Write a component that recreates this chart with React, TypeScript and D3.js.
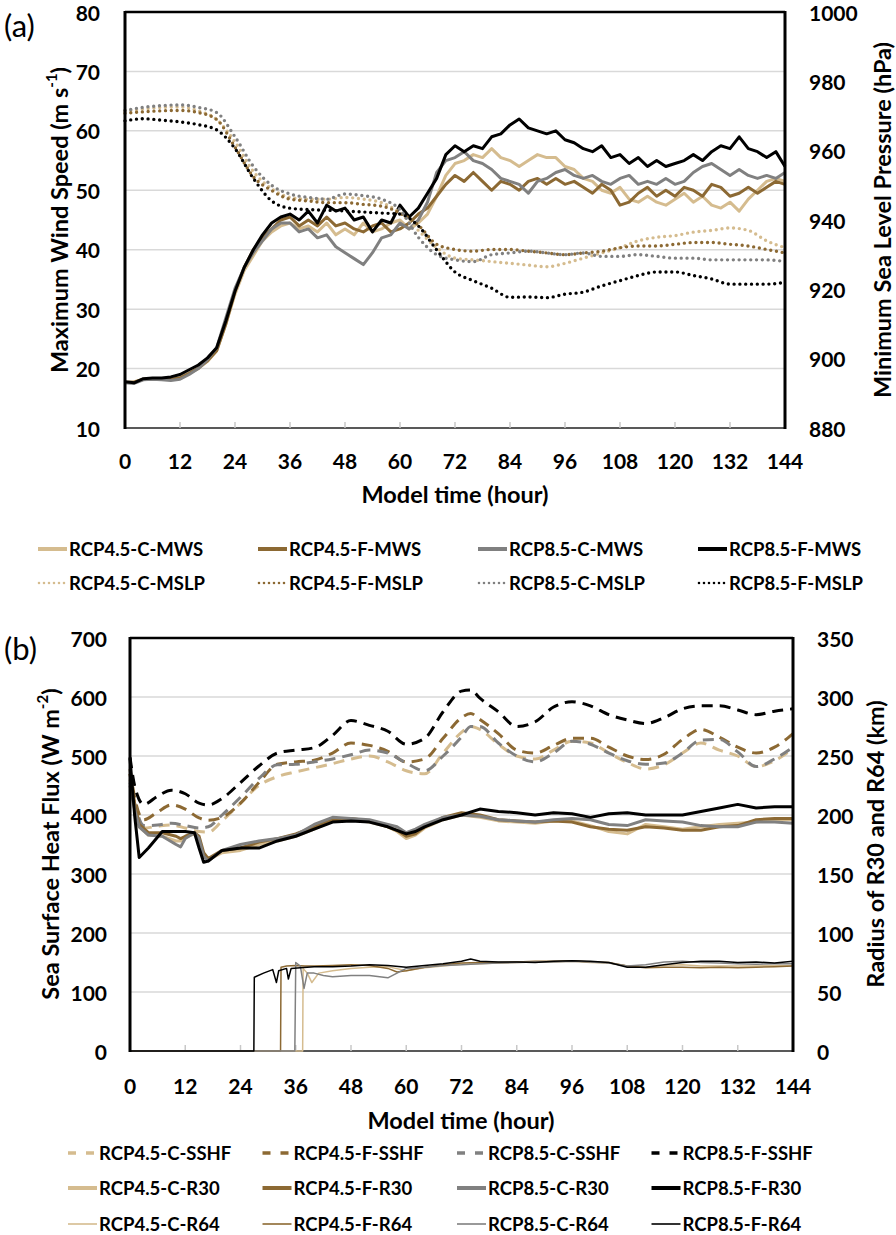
import React from 'react';
import * as d3 from 'd3';

// ---------- Panel (a) data ----------
const HOURS_TICKS = [0, 12, 24, 36, 48, 60, 72, 84, 96, 108, 120, 132, 144];
const WIND_TICKS = [10, 20, 30, 40, 50, 60, 70, 80];
const PRES_TICKS = [880, 900, 920, 940, 960, 980, 1000];

const HOURS_MWS = [0,2,4,6,8,10,12,14,16,18,20,22,24,26,28,30,32,34,36,38,40,42,44,46,48,50,52,54,56,58,60,62,64,66,68,70,72,74,76,78,80,82,84,86,88,90,92,94,96,98,100,102,104,106,108,110,112,114,116,118,120,122,124,126,128,130,132,134,136,138,140,142,144];

const MWS_C45 = [17.6,17.8,18.2,18.3,18.3,18.3,18.5,19.2,20,21.2,23,27.5,32.5,36.5,39,41.5,43,44,
  44.5,43.5,44,43,44.5,42.5,43.5,42.5,44.5,43,43.5,44.5,45,43.5,44.5,46,49,52.5,
  54.5,55,56,55.5,57,55.5,55,54,55,56,55.5,55.5,54,53.5,52,51.5,50,49.5,
  50.5,48.5,48,49,48,47.5,48.5,49.5,48,49,47.5,47,48,46.5,48.5,50,51.5,52,
  51.5];
const MWS_F45 = [17.7,17.7,18.2,18.3,18.2,18.2,18.4,19.2,20.1,21.3,23,27.5,33,37,40,42,43.5,45,
  45.5,44,45,44,45.5,44,44.5,43.5,43,44,44.5,43,43.5,44.5,46,47,49,51,
  52.5,51.5,53,51.5,50,51.5,51,50,51.5,52,51,52,51,51.5,50.5,49.5,51,50,
  47.5,48,49.5,50.5,49,50,49,50.5,50,49,51,50.5,49,49.5,50.5,49.5,50.5,51.5,
  51];
const MWS_C85 = [17.6,17.5,18.1,18.2,18.1,18.0,18.2,19.0,20.0,21.5,23.5,28.5,33.5,37,39.5,41.5,43.5,44.5,
  44.5,43,43.5,42,42.5,40.5,39.5,38.5,37.5,39.5,42,42.5,44.5,43.5,45,48,53,55,
  55.5,56.5,55,54.5,53.5,52,51.5,51,49.5,51.5,52,53,53.5,52.5,52,52.5,51.5,51,
  52,52.5,51,51.5,51,52,51,51.5,53,54,54.5,53.5,52.5,53.5,52.5,52,52.5,52,
  53];
const MWS_F85 = [17.8,17.6,18.3,18.4,18.4,18.6,19.0,19.8,20.6,21.8,23.5,28,33,37,40,42.5,44.5,45.5,
  46,45,46.5,44.5,47.5,46.5,47,45,45.5,43,45,44.5,47.5,45.5,47,49.5,52,56,
  57.5,56.5,57.5,57,59,59.5,61,62,60.5,60,59.5,60,58.5,58,57,56.5,57.5,55.5,
  56,54.5,55.5,54,55,54,54.5,55,56,55,56.5,57.5,57,59,57,56.5,55.5,56.5,
  54];

const HOURS_MSLP = [0,4,8,12,16,20,24,28,32,36,40,44,48,52,56,60,64,68,72,76,80,84,88,92,96,100,104,108,112,116,120,124,128,132,136,140,144];
const MSLP_C45 = [971.5,972,972.5,972.6,971.5,969,962.5,954,949,946.5,946,946,946.5,946,945,942,937,932,929,928.5,928,927.5,927,926.5,927.5,929,930.5,932,934,935,935.5,936.5,937,937.7,937,934,932];
const MSLP_F45 = [970.8,971.2,971.5,971.6,971,969,961,952.5,948.5,946,945.5,945,945,944.5,944,942,938.5,933,931.5,931,931.5,931.5,931,930.5,930,930.5,931,932,932.5,932.5,933,933.5,933.5,933,932.5,931.5,930.5];
const MSLP_C85 = [971.6,972.5,973,973.2,972.5,971,964,955.5,950,947.5,946.5,946,947.5,947,946,943,935,930,928.5,928,930,930.5,931,930.5,930,930.5,929.5,929.5,930,929.5,929,929,928.5,928.5,928.5,928.5,928];
const MSLP_F85 = [968.6,969.2,968.8,968.3,967.5,966,960.6,952,945.5,943.4,943,942.8,942.6,942.3,942,941.7,938.3,931.4,925,922.5,920.3,917.7,917.8,917.6,918.6,919.2,921,922.5,924,925,925,924,923,921.5,921.5,921.5,922];

// ---------- Panel (b) data ----------
const FLUX_TICKS = [0, 100, 200, 300, 400, 500, 600, 700];
const RADIUS_TICKS = [0, 50, 100, 150, 200, 250, 300, 350];

const HOURS_SSHF = [0,1,3,6,9,12,15,17,20,24,28,32,36,40,44,48,52,56,60,64,68,72,74,76,80,84,88,92,96,100,104,108,112,116,120,124,128,132,136,140,144];
const SSHF_C45 = [470,420,378,381,383,378,372,371,390,420,450,465,473,480,487,495,500,490,475,470,505,540,550,545,520,500,495,510,525,522,505,489,478,485,505,522,510,500,482,492,513];
const SSHF_F45 = [478,430,392,405,417,410,395,391,396,420,455,486,490,493,505,522,518,508,490,495,530,565,572,562,538,510,505,518,530,530,515,500,494,503,528,545,532,515,505,515,538];
const SSHF_C85 = [455,420,382,383,386,382,378,380,400,430,462,485,486,490,495,502,510,505,488,475,500,532,550,550,522,500,490,505,525,520,505,492,486,488,505,527,528,507,482,495,515];
const SSHF_F85 = [498,450,418,432,442,436,420,417,428,455,483,505,510,514,535,560,552,542,520,530,575,610,612,598,575,550,558,583,592,585,570,561,555,565,580,585,585,578,570,576,580];

const HOURS_R30 = [0,1,2,4,7,10,11,12,14,15,16,17,20,24,28,32,36,40,44,48,52,56,58,60,62,64,68,72,76,80,84,88,92,96,100,104,108,112,116,120,124,128,132,136,140,144];
const R30_C45 = [230,208,190,183,182,178,178,181,184,180,166,162,168,170,175,178,182,188,195,196,194,190,186,180,183,189,196,200,198,195,194,193,195,195,191,186,184,192,190,188,190,192,193,194,196,196];
const R30_F45 = [235,210,192,185,185,182,180,182,185,182,168,163,170,172,177,180,184,190,196,197,195,190,187,182,184,190,198,202,200,196,195,194,195,194,190,188,187,190,189,187,187,190,191,196,197,197];
const R30_C85 = [225,205,190,183,182,175,173,180,185,180,165,161,170,175,178,180,183,192,198,197,196,192,190,185,188,192,198,200,199,196,195,194,196,197,196,192,191,196,195,194,191,190,190,194,194,193];
const R30_F85 = [248,200,164,172,186,186,186,186,185,172,160,161,170,172,172,178,182,188,194,195,194,190,187,184,186,190,196,200,205,203,202,200,202,201,198,201,202,200,200,200,203,206,209,206,207,207];

const HOURS_R64_C45 = [0,37.5,37.6,38.5,39.5,41,44,48,52,56,60,64,68,72,76,80,84,88,92,96,100,104,108,112,116,120,124,128,132,136,140,144];
const R64_C45 = [0,0,70,66,58,66,68,70,71,71.5,68,70.5,72,73.5,74,74.5,75,75.5,75.5,76,75,74.5,72,71,72.5,73,72,72,72,72,72.5,72.5];
const HOURS_R64_F45 = [0,32.7,32.8,34,36,38,40,44,48,52,56,58,60,64,68,72,76,80,84,88,92,96,100,104,108,112,116,120,124,128,132,136,140,144];
const R64_F45 = [0,0,71,72,72.5,72,72,72.5,73,72.5,70,67,68,71,73,74.5,75,75,75.5,76,76,76.5,75.5,75,72,70.5,71,71,70.5,71,70.5,71,71.5,72];
const HOURS_R64_C85 = [0,35.8,36,37,37.8,38.5,40,42,44,48,52,56,60,64,68,72,76,80,84,88,92,96,100,104,108,112,116,120,124,128,132,136,140,144];
const R64_C85 = [0,0,75,72,53,66,66,64,63,64,64,62,70,71,72.5,73,74,74.5,75,75.5,75.5,76,75.5,74.5,72,73,75.5,76,75,74.5,74,73.5,74,74];
const HOURS_R64_F85 = [0,26.9,27,29,31,31.8,32.3,34,34.4,35,37,40,44,48,52,56,60,64,68,72,74,76,80,84,88,92,96,100,104,108,112,116,120,124,128,132,136,140,144];
const R64_F85 = [0,0,62.5,66,69,58,68,70,61,70,70.5,71.5,71.5,72,73,72.5,71,72.5,74,76,78,76,75.5,75.5,75,76,76.5,76,75,71,71,73,75,76,76,75,75.5,74.5,76];

// ---------- styles ----------
const C45 = '#D5BC8F';
const F45 = '#8C6933';
const C85 = '#808080';
const F85 = '#000000';
const FONT = "Lato, 'Open Sans', sans-serif";

type Pt = [number, number];
const zip = (h: number[], v: number[]): Pt[] => h.map((t, i) => [t, v[i]]);

const W = 896;
const H = 1235;

export default function App() {
  const xA = d3.scaleLinear().domain([0, 144]).range([125, 785]);
  const yA = d3.scaleLinear().domain([10, 80]).range([428, 12]);
  const yA2 = d3.scaleLinear().domain([880, 1000]).range([428, 12]);
  const xB = d3.scaleLinear().domain([0, 144]).range([130, 793]);
  const yB = d3.scaleLinear().domain([0, 700]).range([1051, 638]);
  const yB2 = d3.scaleLinear().domain([0, 350]).range([1051, 638]);

  const mk = (x: any, y: any, curve: any) =>
    d3.line<Pt>().x(d => x(d[0])).y(d => y(d[1])).curve(curve);

  const lineA = mk(xA, yA, d3.curveLinear);
  const lineA2 = mk(xA, yA2, d3.curveMonotoneX);
  const lineB = mk(xB, yB, d3.curveMonotoneX);
  const lineB2 = mk(xB, yB2, d3.curveLinear);

  const mwsSeries = [
    { label: 'RCP4.5-C-MWS', color: C45, data: zip(HOURS_MWS, MWS_C45) },
    { label: 'RCP4.5-F-MWS', color: F45, data: zip(HOURS_MWS, MWS_F45) },
    { label: 'RCP8.5-C-MWS', color: C85, data: zip(HOURS_MWS, MWS_C85) },
    { label: 'RCP8.5-F-MWS', color: F85, data: zip(HOURS_MWS, MWS_F85) },
  ];
  const mslpSeries = [
    { label: 'RCP4.5-C-MSLP', color: C45, data: zip(HOURS_MSLP, MSLP_C45) },
    { label: 'RCP4.5-F-MSLP', color: F45, data: zip(HOURS_MSLP, MSLP_F45) },
    { label: 'RCP8.5-C-MSLP', color: C85, data: zip(HOURS_MSLP, MSLP_C85) },
    { label: 'RCP8.5-F-MSLP', color: F85, data: zip(HOURS_MSLP, MSLP_F85) },
  ];
  const sshfSeries = [
    { label: 'RCP4.5-C-SSHF', color: C45, data: zip(HOURS_SSHF, SSHF_C45) },
    { label: 'RCP4.5-F-SSHF', color: F45, data: zip(HOURS_SSHF, SSHF_F45) },
    { label: 'RCP8.5-C-SSHF', color: C85, data: zip(HOURS_SSHF, SSHF_C85) },
    { label: 'RCP8.5-F-SSHF', color: F85, data: zip(HOURS_SSHF, SSHF_F85) },
  ];
  const r30Series = [
    { label: 'RCP4.5-C-R30', color: C45, data: zip(HOURS_R30, R30_C45) },
    { label: 'RCP4.5-F-R30', color: F45, data: zip(HOURS_R30, R30_F45) },
    { label: 'RCP8.5-C-R30', color: C85, data: zip(HOURS_R30, R30_C85) },
    { label: 'RCP8.5-F-R30', color: F85, data: zip(HOURS_R30, R30_F85) },
  ];
  const r64Series = [
    { label: 'RCP4.5-C-R64', color: C45, data: zip(HOURS_R64_C45, R64_C45) },
    { label: 'RCP4.5-F-R64', color: F45, data: zip(HOURS_R64_F45, R64_F45) },
    { label: 'RCP8.5-C-R64', color: C85, data: zip(HOURS_R64_C85, R64_C85) },
    { label: 'RCP8.5-F-R64', color: F85, data: zip(HOURS_R64_F85, R64_F85) },
  ];

  const DOT = { strokeWidth: 3.4, strokeDasharray: '0 5.8', strokeLinecap: 'round' as const };
  const DASH = { strokeWidth: 3, strokeDasharray: '11 7', strokeLinecap: 'butt' as const };

  const frame = (x: any, y: any, gridVals: number[], left: number, right: number, top: number, bottom: number) => (
    <g>
      {gridVals.map(v => (
        <line key={'g' + v} x1={left} x2={right} y1={y(v)} y2={y(v)} stroke="#d9d9d9" strokeWidth={1.5} />
      ))}
      <line x1={left} x2={right} y1={bottom} y2={bottom} stroke="#595959" strokeWidth={2.2} />
      {HOURS_TICKS.map(t => (
        <line key={'t' + t} x1={x(t)} x2={x(t)} y1={bottom - 6} y2={bottom} stroke="#c8c8c8" strokeWidth={1.5} />
      ))}
    </g>
  );
  const border = (left: number, right: number, top: number, bottom: number) => (
    <g fill="none" stroke="#000">
      <line x1={left} x2={right} y1={top} y2={top} strokeWidth={2.5} />
      <line x1={left} x2={left} y1={top - 1} y2={bottom + 1} strokeWidth={3} />
      <line x1={right} x2={right} y1={top - 1} y2={bottom + 1} strokeWidth={3} />
    </g>
  );

  const tickStyle = { fontFamily: FONT, fontWeight: 700, fontSize: 21, fill: '#000' };
  const titleStyle = { fontFamily: FONT, fontWeight: 700, fontSize: 23.5, fill: '#000' };
  const legStyle = { fontFamily: FONT, fontWeight: 700, fontSize: 18.5, fill: '#000' };

  const legendA = [
    ...mwsSeries.map(s => ({ label: s.label, color: s.color, kind: 'solid' })),
    ...mslpSeries.map(s => ({ label: s.label, color: s.color, kind: 'dot' })),
  ];
  const legendB = [
    ...sshfSeries.map(s => ({ label: s.label, color: s.color, kind: 'dash' })),
    ...r30Series.map(s => ({ label: s.label, color: s.color, kind: 'solid' })),
    ...r64Series.map(s => ({ label: s.label, color: s.color, kind: 'thin' })),
  ];

  const legendItem = (it: any, i: number, x0: number, dx: number, rows: number[]) => {
    const col = i % 4;
    const row = Math.floor(i / 4);
    const lx = x0 + col * dx;
    const ly = rows[row];
    let sample: any;
    if (it.kind === 'solid') sample = <line x1={lx} x2={lx + 29} y1={ly} y2={ly} stroke={it.color} strokeWidth={4} />;
    else if (it.kind === 'thin') sample = <line x1={lx} x2={lx + 29} y1={ly} y2={ly} stroke={it.color} strokeWidth={1.6} />;
    else if (it.kind === 'dot') sample = <line x1={lx + 1} x2={lx + 29} y1={ly} y2={ly} stroke={it.color} strokeWidth={2.6} strokeDasharray="0 5" strokeLinecap="round" />;
    else sample = <line x1={lx} x2={lx + 31} y1={ly} y2={ly} stroke={it.color} strokeWidth={3.5} strokeDasharray="8 10 8" />;
    return (
      <g key={it.label}>
        {sample}
        <text x={lx + 31} y={ly} dominantBaseline="central" style={legStyle}>{it.label}</text>
      </g>
    );
  };

  return (
    <svg width={W} height={H} viewBox={`0 0 ${W} ${H}`} style={{ position: 'absolute', left: 0, top: 0, background: '#fff' }}>
      <rect width={W} height={H} fill="#fff" />

      {/* ================= Panel (a) ================= */}
      <text x={4} y={25} dominantBaseline="central" style={{ fontFamily: FONT, fontSize: 31, fill: '#000' }}>(a)</text>
      {frame(xA, yA, WIND_TICKS.slice(1, -1), 125, 785, 12, 428)}

      {mwsSeries.map(s => (
        <path key={s.label} d={lineA(s.data) || ''} fill="none" stroke={s.color} strokeWidth={3} strokeLinejoin="round" />
      ))}
      {mslpSeries.map(s => (
        <path key={s.label} d={lineA2(s.data) || ''} fill="none" stroke={s.color} {...DOT} />
      ))}
      {border(125, 785, 12, 428)}

      {WIND_TICKS.map(v => (
        <text key={'wl' + v} x={100} y={yA(v)} textAnchor="end" dominantBaseline="central" style={tickStyle}>{v}</text>
      ))}
      {PRES_TICKS.map(v => (
        <text key={'pr' + v} x={809} y={yA2(v)} textAnchor="start" dominantBaseline="central" style={tickStyle}>{v}</text>
      ))}
      {HOURS_TICKS.map(t => (
        <text key={'xa' + t} x={xA(t)} y={460} textAnchor="middle" dominantBaseline="central" style={tickStyle}>{t}</text>
      ))}
      <text x={455} y={494} textAnchor="middle" dominantBaseline="central" style={titleStyle}>Model time (hour)</text>
      <text transform="translate(59,220) rotate(-90)" textAnchor="middle" dominantBaseline="central" style={titleStyle}>
        Maximum Wind Speed (m s<tspan dy={-8} fontSize={15}>-1</tspan><tspan dy={8}>)</tspan>
      </text>
      <text transform="translate(882,220) rotate(-90)" textAnchor="middle" dominantBaseline="central" style={titleStyle}>
        Minimum Sea Level Pressure (hPa)
      </text>

      {legendA.map((it, i) => legendItem(it, i, 38, 220, [549, 583]))}

      {/* ================= Panel (b) ================= */}
      <text x={4} y={648} dominantBaseline="central" style={{ fontFamily: FONT, fontSize: 31, fill: '#000' }}>(b)</text>
      {frame(xB, yB, FLUX_TICKS.slice(1, -1), 130, 793, 638, 1051)}

      {sshfSeries.map(s => (
        <path key={s.label} d={lineB(s.data) || ''} fill="none" stroke={s.color} {...DASH} />
      ))}
      {r30Series.map(s => (
        <path key={s.label} d={lineB2(s.data) || ''} fill="none" stroke={s.color} strokeWidth={3} strokeLinejoin="round" />
      ))}
      {r64Series.map(s => (
        <path key={s.label} d={lineB2(s.data) || ''} fill="none" stroke={s.color} strokeWidth={1.5} strokeLinejoin="round" />
      ))}
      {border(130, 793, 638, 1051)}

      {FLUX_TICKS.map(v => (
        <text key={'fl' + v} x={107} y={yB(v)} textAnchor="end" dominantBaseline="central" style={tickStyle}>{v}</text>
      ))}
      {RADIUS_TICKS.map(v => (
        <text key={'rd' + v} x={817} y={yB2(v)} textAnchor="start" dominantBaseline="central" style={tickStyle}>{v}</text>
      ))}
      {HOURS_TICKS.map(t => (
        <text key={'xb' + t} x={xB(t)} y={1085} textAnchor="middle" dominantBaseline="central" style={tickStyle}>{t}</text>
      ))}
      <text x={461} y={1120} textAnchor="middle" dominantBaseline="central" style={titleStyle}>Model time (hour)</text>
      <text transform="translate(50,844) rotate(-90)" textAnchor="middle" dominantBaseline="central" style={titleStyle}>
        Sea Surface Heat Flux (W m<tspan dy={-8} fontSize={15}>-2</tspan><tspan dy={8}>)</tspan>
      </text>
      <text transform="translate(875,844) rotate(-90)" textAnchor="middle" dominantBaseline="central" style={titleStyle}>
        Radius of R30 and R64 (km)
      </text>

      {legendB.map((it, i) => legendItem(it, i, 68, 194.5, [1153, 1188, 1224]))}
    </svg>
  );
}
